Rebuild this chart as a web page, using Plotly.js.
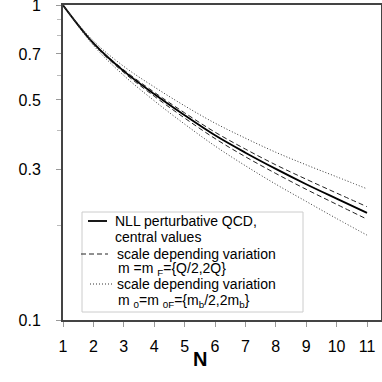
<!DOCTYPE html>
<html>
<head>
<meta charset="utf-8">
<script src="https://cdn.plot.ly/plotly-3.0.1.min.js"></script>
<style>
  html, body { margin: 0; padding: 0; background: #fff; }
  #plot { width: 382px; height: 382px; }
</style>
</head>
<body>
<div id="plot"></div>
<script>
// moments N and the curves
const N = [1, 2, 3, 4, 5, 6, 7, 8, 9, 10, 11];
const central = [1, 0.757, 0.617, 0.522, 0.447, 0.386, 0.340, 0.302, 0.270, 0.243, 0.219];
const dashedUp = [1, 0.760, 0.623, 0.529, 0.455, 0.395, 0.349, 0.311, 0.280, 0.253, 0.229];
const dashedLo = [1, 0.753, 0.611, 0.514, 0.438, 0.377, 0.330, 0.292, 0.260, 0.233, 0.209];
const dottedUp = [1, 0.770, 0.639, 0.550, 0.479, 0.422, 0.378, 0.341, 0.311, 0.285, 0.261];
const dottedLo = [1, 0.745, 0.598, 0.497, 0.419, 0.357, 0.309, 0.270, 0.238, 0.210, 0.186];

const yMajor = [0.1, 0.3, 0.5, 0.7, 1];
const yMinor = [0.2, 0.4, 0.6, 0.8, 0.9];

const legendLines = [
  'NLL perturbative QCD,',
  'central values',
  'scale depending variation',
  'm =m <sub>F</sub>={Q/2,2Q}',
  'scale depending variation',
  'm <sub>0</sub>=m <sub>0F</sub>={m<sub>b</sub>/2,2m<sub>b</sub>}'
];

const solid = { color: '#000', width: 1.8 };
const dashed = { color: '#222', width: 1, dash: '5px,3px' };
const dotted = { color: '#333', width: 1, dash: '1px,2px' };

let traces = [
  { x: N, y: central, line: solid },
  { x: N, y: dashedUp, line: dashed },
  { x: N, y: dashedLo, line: dashed },
  { x: N, y: dottedUp, line: dotted },
  { x: N, y: dottedLo, line: dotted }
];
traces.forEach(t => {
  t.type = 'scatter'; t.mode = 'lines'; t.showlegend = false;
  t.line = Object.assign({ shape: 'spline' }, t.line);
});

// legend box drawn by hand (pixel -> paper)
function px(x) { return (x - 63) / 318; }
function py(y) { return (320 - y) / 315; }

let shapes = [
  { type: 'rect', xref: 'paper', yref: 'paper', x0: px(82), x1: px(303), y0: py(312), y1: py(212),
    line: { color: '#ccc', width: 1 }, fillcolor: '#fff' },
  { type: 'line', xref: 'paper', yref: 'paper', x0: px(88), x1: px(107), y0: py(221), y1: py(221), line: solid },
  { type: 'line', xref: 'paper', yref: 'paper', x0: px(81), x1: px(108), y0: py(254), y1: py(254), line: dashed },
  { type: 'line', xref: 'paper', yref: 'paper', x0: px(90), x1: px(113), y0: py(284), y1: py(284), line: dotted }
];

const lineY = [221, 237, 254, 269, 284, 301];
const lineX = [113, 113, 115, 116, 115, 116];
let annotations = legendLines.map((t, i) => ({
  text: t, xref: 'paper', yref: 'paper', x: px(lineX[i]), y: py(lineY[i]),
  xanchor: 'left', yanchor: 'middle', showarrow: false, font: { size: 14 }
}));
annotations.push({
  text: '<b>N</b>', xref: 'x', yref: 'paper', x: 5.5, y: -0.125,
  xanchor: 'center', yanchor: 'middle', showarrow: false, font: { size: 20 }
});

let layout = {
  width: 382, height: 382,
  margin: { l: 63, r: 1, t: 5, b: 62 },
  paper_bgcolor: '#fff', plot_bgcolor: '#fff',
  font: { family: 'Liberation Sans, Arial, sans-serif', color: '#000' },
  showlegend: false,
  xaxis: {
    range: [1, 11.46], tickvals: N, ticks: 'outside', ticklen: 5, tickcolor: '#999',
    showgrid: false, zeroline: false, showline: true, mirror: true,
    linecolor: '#444', linewidth: 2, tickfont: { size: 16 }, ticklabelstandoff: 6
  },
  yaxis: {
    type: 'log', range: [-1, 0.0005], tickvals: yMajor, ticktext: yMajor.map(String),
    ticks: 'outside', ticklen: 5, tickcolor: '#999', ticklabeloverflow: 'allow',
    minor: { tickvals: yMinor, ticks: 'outside', ticklen: 4, tickcolor: '#bbb' },
    showgrid: false, zeroline: false, showline: true, mirror: true,
    linecolor: '#444', linewidth: 2, tickfont: { size: 16 }, ticklabelstandoff: 12
  },
  shapes: shapes,
  annotations: annotations
};

Plotly.newPlot('plot', traces, layout, { displayModeBar: false, staticPlot: true });
</script>
</body>
</html>
